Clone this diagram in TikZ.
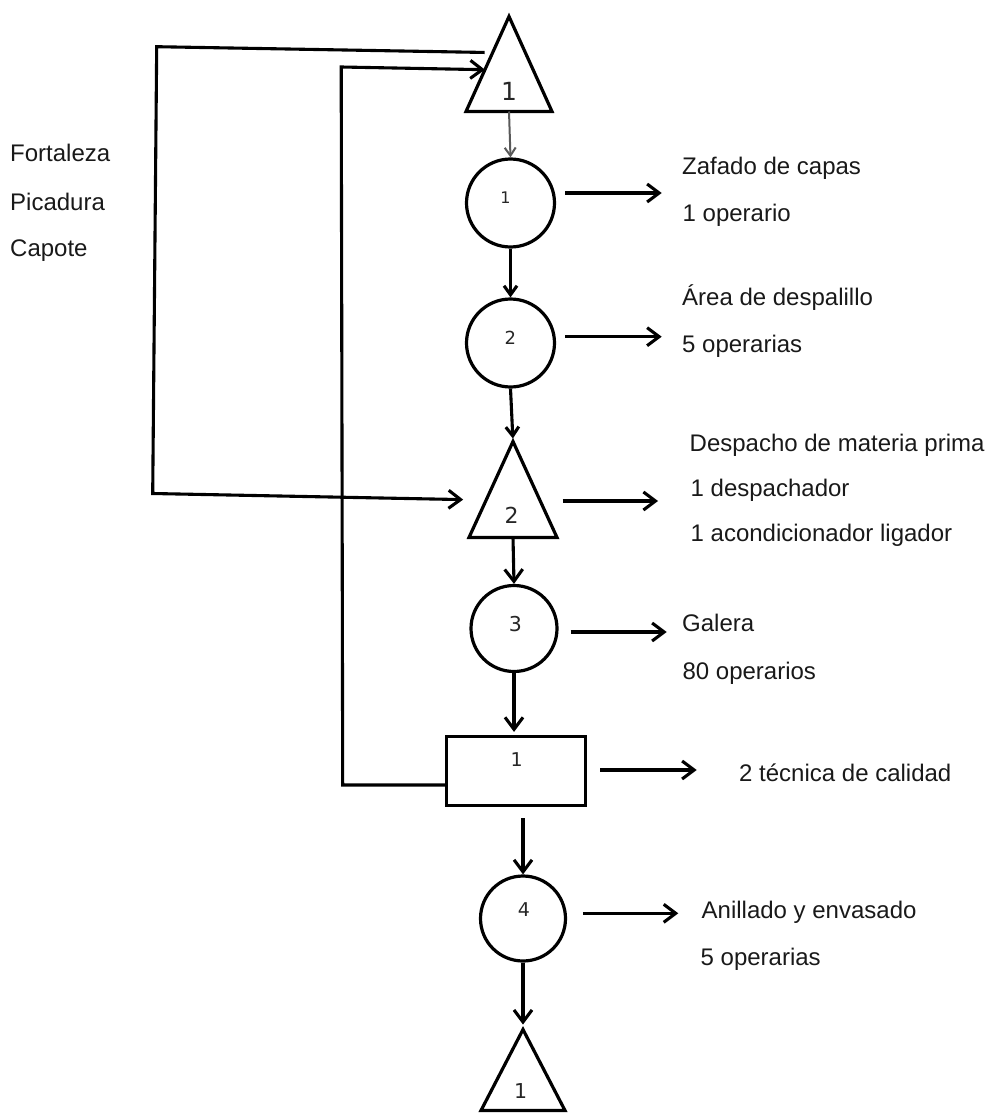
\documentclass[tikz,border=0pt]{standalone}
\usepackage{fontspec}
\setmainfont{Liberation Sans}
\newfontfamily\digitfont{DejaVu Sans}
\usetikzlibrary{arrows.meta,calc}
\begin{document}
\begin{tikzpicture}[x=1pt,y=-1pt,
  shape line/.style={line width=3.2pt,line join=miter},
  circ/.style={circle,draw,shape line,minimum size=#1,inner sep=0pt},
  box/.style 2 args={rectangle,draw,shape line,minimum width=#1,minimum height=#2,inner sep=0pt},
  tribox/.style 2 args={rectangle,minimum width=#1,minimum height=#2,inner sep=0pt,outer sep=0pt},
  num/.style={font=\digitfont\fontsize{#1}{#1}\selectfont,inner sep=0pt,anchor=center,text=black!85},
  txt/.style={font=\fontsize{24}{28}\selectfont,inner sep=0pt,anchor=base west,text=black!90},
  flow/.style={line width=3.1pt,line join=miter},
  arr/.style={flow,-{Straight Barb[length=12pt,width=18pt]}},
  smallarr/.style={flow,-{Straight Barb[length=9pt,width=13pt]}},
  grayarr/.style={line width=2pt,draw=black!65,-{Straight Barb[length=8pt,width=11pt]}}
]
\useasboundingbox (0,0) rectangle (992,1113);

% storage (triangles) and operations (circles), inspection (box)
\node[tribox={86pt}{95pt}] (t1) at (509,64) {};
\node[circ=88pt] (c1) at (510.5,203) {};
\node[circ=88pt] (c2) at (510.5,343) {};
\node[tribox={88pt}{96pt}] (t2) at (513,489.5) {};
\node[circ=86pt] (c3) at (514,628.5) {};
\node[box={139pt}{69pt}] (r) at (516,771) {};
\node[circ=85pt] (c4) at (523,918.5) {};
\node[tribox={84pt}{81pt}] (t3) at (523,1070) {};

\foreach \t in {t1,t2,t3}
  \draw[shape line] (\t.north) -- (\t.south east) -- (\t.south west) -- cycle;

% numbers inside the symbols
\node[num=25] (n1) at (509,91) {1};
\node[num=16] (n2) at (505.5,197.5) {1};
\node[num=18] (n3) at (510.3,338.3) {2};
\node[num=22] (n4) at (511.7,515) {2};
\node[num=20.5] (n5) at (515.3,624) {3};
\node[num=19] (n6) at (516.7,760) {1};
\node[num=19] (n7) at (523.8,910) {4};
\node[num=20.5] (n8) at (520.7,1091) {1};

% main flow
\draw[grayarr] (t1.south) -- (c1.north);
\draw[smallarr] (c1.south) -- (c2.north);
\draw[smallarr,shorten >=3pt] (c2.south) -- (t2.north);
\draw[arr] (t2.south) -- (c3.north);
\draw[arr,shorten >=3pt] (c3.south) -- (c3.south |- r.north);
\draw[arr,shorten <=11pt] (r.south -| c4.north) -- (c4.north);
\draw[arr,shorten >=5pt] (c4.south) -- (t3.north);

% return lines
\coordinate (fa) at (156.7,46.7);
\coordinate (fb) at (152.7,493.5);
\draw[arr,shorten <=8pt,shorten >=23pt] ($(t1.north)!0.38!(t1.south west)$) -- (fa) -- (fb) -- ($(t2.north)!0.61!(t2.south west)$);
\coordinate (ga) at (342.7,785);
\coordinate (gb) at (341.2,67);
\draw[arr] ([yshift=-14pt]r.west) -- (ga) -- (gb) -- ($(t1.north)!0.56!(t1.south west)$);

% side arrows towards the descriptions
\coordinate (e1) at (661.7,193);
\coordinate (e2) at (661.7,336.7);
\coordinate (e3) at (658,501);
\coordinate (e4) at (666.7,632);
\coordinate (e5) at (696.7,770);
\coordinate (e6) at (678.3,913.3);
\draw[arr] (c1.east |- e1) ++(9,0) -- (e1);
\draw[arr] (c2.east |- e2) ++(9,0) -- (e2);
\draw[arr] (t2.east |- e3) ++(5.7,0) -- (e3);
\draw[arr] (c3.east |- e4) ++(12,0) -- (e4);
\draw[arr] (r.east |- e5) ++(13,0) -- (e5);
\draw[arr] (c4.east |- e6) ++(15.7,0) -- (e6);

% descriptions
\node[txt] (l1) at (10,161.7) {Fortaleza};
\node[txt] (l2) at (10,210) {Picadura};
\node[txt] (l3) at (10,256.7) {Capote};

\node[txt] (d1a) at (682,174.3) {Zafado de capas};
\node[txt] (d1b) at (682.5,221.7) {1 operario};
\node[txt] (d2a) at (682,305.7) {Área de despalillo};
\node[txt] (d2b) at (682,352.7) {5 operarias};
\node[txt] (d3a) at (689.5,451.7) {Despacho de materia prima};
\node[txt] (d3b) at (690.5,496.7) {1 despachador};
\node[txt] (d3c) at (690.5,541.7) {1 acondicionador ligador};
\node[txt] (d4a) at (682,631.7) {Galera};
\node[txt] (d4b) at (682.4,679) {80 operarios};
\node[txt] (d5) at (739,781.7) {2 técnica de calidad};
\node[txt] (d6a) at (701.5,918.3) {Anillado y envasado};
\node[txt] (d6b) at (700.5,965) {5 operarias};
\end{tikzpicture}
\end{document}
